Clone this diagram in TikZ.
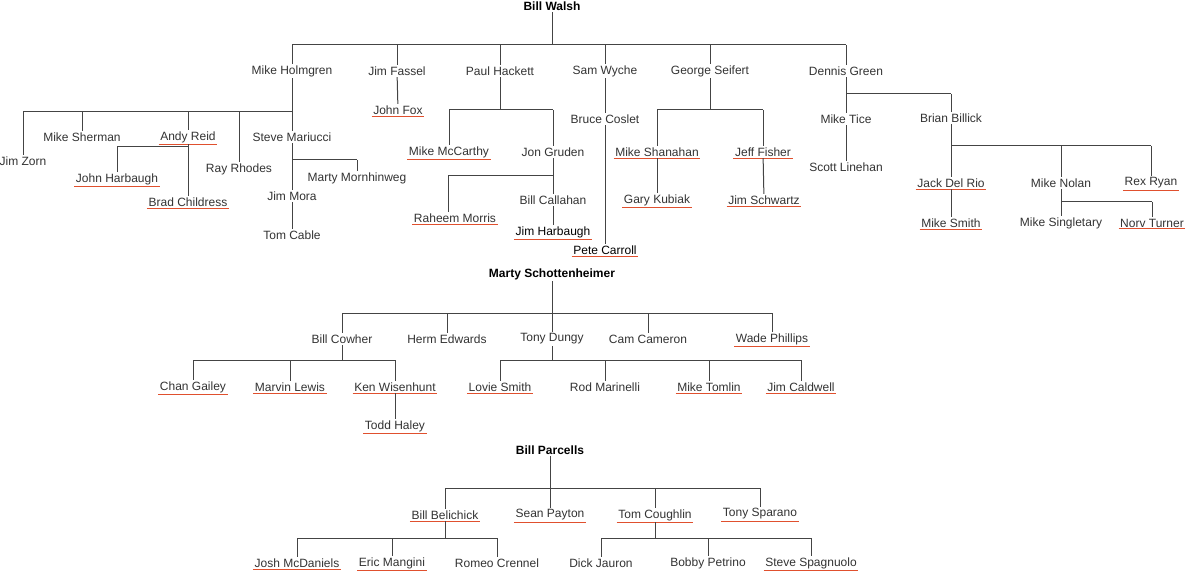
\documentclass[tikz,border=0pt]{standalone}
\usepackage{fontspec}
\setmainfont{Liberation Sans}
\definecolor{txt}{HTML}{333333}
\definecolor{lin}{HTML}{444444}
\definecolor{ulr}{HTML}{E0502E}
\newcommand\famtree[5]{%
  \path (0,#2) coordinate (tmpY);
  \draw[conn] (#1.south) -- (#1.south|-tmpY);
  \draw[conn] (#3.north|-tmpY) -- (#4.north|-tmpY);
  \foreach \c in {#5} {\draw[conn] (\c.north|-tmpY) -- (\c.north);}
}
\begin{document}
\begin{tikzpicture}[x=1pt,y=-1pt,
  nm/.style={font=\fontsize{12}{13}\selectfont, text=txt, inner sep=1.5pt},
  rt/.style={nm, font=\fontsize{12}{13}\selectfont\bfseries, text=black},
  ul/.style={nm, append after command={(\tikzlastnode.south west) edge[draw=ulr, line width=1pt] (\tikzlastnode.south east)}},
  conn/.style={draw=lin, line width=1pt}]
\fill[white] (0,0) rectangle (1200,580);
\useasboundingbox (0,0) rectangle (1200,580);
% Bill Walsh tree
\node[rt] (walsh) at (552,6) {Bill Walsh};
\node[nm] (holm) at (292,71) {Mike Holmgren};
\node[nm] (fassel) at (397,71) {Jim Fassel};
\node[nm] (hackett) at (500,71) {Paul Hackett};
\node[nm] (wyche) at (605,71) {Sam Wyche};
\node[nm] (seifert) at (710,71) {George Seifert};
\node[nm] (green) at (846,71) {Dennis Green};
\famtree{walsh}{45}{holm}{green}{holm,fassel,hackett,wyche,seifert,green}
\node[nm] (zorn) at (23,161) {Jim Zorn};
\node[nm] (sherman) at (82,137) {Mike Sherman};
\node[ul] (reid) at (188,137) {Andy Reid};
\node[nm] (rhodes) at (239,169) {Ray Rhodes};
\node[nm] (mariucci) at (292,137) {Steve Mariucci};
\famtree{holm}{112}{zorn}{mariucci}{zorn,sherman,reid,rhodes,mariucci}
\node[ul] (jharb) at (117,179) {John Harbaugh};
\node[ul] (childress) at (188,202) {Brad Childress};
\famtree{reid}{147}{jharb}{childress}{jharb,childress}
\node[nm] (mora) at (292,196) {Jim Mora};
\node[nm] (morn) at (357,178) {Marty Mornhinweg};
\famtree{mariucci}{160}{mora}{morn}{mora,morn}
\node[nm] (cable) at (292,235) {Tom Cable};
\draw[conn] (mora) -- (cable);
\node[ul] (fox) at (398,110) {John Fox};
\draw[conn] (fassel) -- (fox);
\node[ul] (mccarthy) at (449,152) {Mike McCarthy};
\node[nm] (gruden) at (553,152) {Jon Gruden};
\famtree{hackett}{110}{mccarthy}{gruden}{mccarthy,gruden}
\node[ul] (morris) at (455,218) {Raheem Morris};
\node[nm] (callahan) at (553,200) {Bill Callahan};
\path (0,176) coordinate (tY);
\path (448,176) coordinate (mbar);
\draw[conn] (gruden.south) -- (gruden.south|-tY);
\draw[conn] (mbar) -- (gruden.south|-tY);
\draw[conn] (mbar) -- (mbar|-morris.north);
\draw[conn] (gruden.south|-tY) -- (callahan.north);
\node[ul,text=black] (jimharb) at (553,232) {Jim Harbaugh};
\draw[conn] (callahan) -- (jimharb);
\node[nm] (coslet) at (605,119) {Bruce Coslet};
\node[ul,text=black] (carroll) at (605,250) {Pete Carroll};
\draw[conn] (wyche) -- (coslet);
\draw[conn] (coslet) -- (carroll);
\node[ul] (shanahan) at (657,152) {Mike Shanahan};
\node[ul] (fisher) at (763,152) {Jeff Fisher};
\famtree{seifert}{110}{shanahan}{fisher}{shanahan,fisher}
\node[ul] (kubiak) at (657,200) {Gary Kubiak};
\node[ul] (schwartz) at (764,200) {Jim Schwartz};
\draw[conn] (shanahan) -- (kubiak);
\draw[conn] (fisher) -- (schwartz);
\node[nm] (tice) at (846,119) {Mike Tice};
\node[nm] (billick) at (951,118) {Brian Billick};
\famtree{green}{94}{tice}{billick}{tice,billick}
\node[nm] (linehan) at (846,167) {Scott Linehan};
\draw[conn] (tice) -- (linehan);
\node[ul] (delrio) at (951,183) {Jack Del Rio};
\node[nm] (nolan) at (1061,183) {Mike Nolan};
\node[ul] (ryan) at (1151,183) {Rex Ryan};
\famtree{billick}{146}{delrio}{ryan}{delrio,nolan,ryan}
\node[ul] (msmith) at (951,223) {Mike Smith};
\draw[conn] (delrio) -- (msmith);
\node[nm] (singletary) at (1061,223) {Mike Singletary};
\node[ul] (turner) at (1152,223) {Norv Turner};
\famtree{nolan}{202}{singletary}{turner}{singletary,turner}
% Marty Schottenheimer tree
\node[rt] (marty) at (552,274) {Marty Schottenheimer};
\node[nm] (cowher) at (342,339) {Bill Cowher};
\node[nm] (edwards) at (447,339) {Herm Edwards};
\node[nm] (dungy) at (552,339) {Tony Dungy};
\node[nm] (cameron) at (648,339) {Cam Cameron};
\node[ul] (phillips) at (772,339) {Wade Phillips};
\famtree{marty}{313}{cowher}{phillips}{cowher,edwards,dungy,cameron,phillips}
\node[ul] (gailey) at (193,387) {Chan Gailey};
\node[ul] (lewis) at (290,387) {Marvin Lewis};
\node[ul] (wisenhunt) at (395,387) {Ken Wisenhunt};
\famtree{cowher}{360}{gailey}{wisenhunt}{gailey,lewis,wisenhunt}
\node[ul] (haley) at (395,426) {Todd Haley};
\draw[conn] (wisenhunt) -- (haley);
\node[ul] (lovie) at (500,387) {Lovie Smith};
\node[nm] (marinelli) at (605,387) {Rod Marinelli};
\node[ul] (tomlin) at (709,387) {Mike Tomlin};
\node[ul] (caldwell) at (801,387) {Jim Caldwell};
\famtree{dungy}{360}{lovie}{caldwell}{lovie,marinelli,tomlin,caldwell}
% Bill Parcells tree
\node[rt] (parcells) at (550,450) {Bill Parcells};
\node[ul] (belichick) at (445,515) {Bill Belichick};
\node[ul] (payton) at (550,515) {Sean Payton};
\node[ul] (coughlin) at (655,515) {Tom Coughlin};
\node[ul] (sparano) at (760,514) {Tony Sparano};
\famtree{parcells}{488}{belichick}{sparano}{belichick,payton,coughlin,sparano}
\node[ul] (mcdaniels) at (297,563) {Josh McDaniels};
\node[ul] (mangini) at (392,563) {Eric Mangini};
\node[nm] (crennel) at (497,563) {Romeo Crennel};
\famtree{belichick}{538}{mcdaniels}{crennel}{mcdaniels,mangini,crennel}
\node[nm] (jauron) at (601,563) {Dick Jauron};
\node[nm] (petrino) at (708,563) {Bobby Petrino};
\node[ul] (spagnuolo) at (811,563) {Steve Spagnuolo};
\famtree{coughlin}{538}{jauron}{spagnuolo}{jauron,petrino,spagnuolo}
\end{tikzpicture}
\end{document}
